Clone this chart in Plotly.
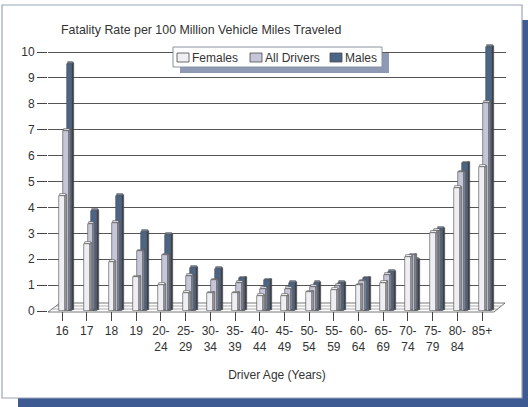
import plotly.graph_objects as go

categories = ["16", "17", "18", "19", "20-24", "25-29", "30-34", "35-39", "40-44",
              "45-49", "50-54", "55-59", "60-64", "65-69", "70-74", "75-79", "80-84", "85+"]
tick_labels = ["16", "17", "18", "19", "20-<br>24", "25-<br>29", "30-<br>34", "35-<br>39", "40-<br>44",
               "45-<br>49", "50-<br>54", "55-<br>59", "60-<br>64", "65-<br>69", "70-<br>74", "75-<br>79",
               "80-<br>84", "85+"]
females = [4.45, 2.6, 1.9, 1.3, 1.0, 0.7, 0.68, 0.68, 0.58, 0.58, 0.72, 0.8, 0.99, 1.1, 2.1, 3.0, 4.75, 5.55]
all_drivers = [6.95, 3.35, 3.4, 2.3, 2.15, 1.35, 1.18, 1.07, 0.86, 0.86, 0.92, 0.98, 1.14, 1.39, 2.15, 3.1, 5.35, 8.05]
males = [9.55, 3.85, 4.45, 3.05, 2.95, 1.65, 1.62, 1.26, 1.18, 1.07, 1.07, 1.08, 1.26, 1.52, 1.98, 3.18, 5.7, 10.2]
y_ticks = list(range(0, 11))
legend_names = ["Females", "All Drivers", "Males"]

W, H = 528, 407
L, R, T, B = 48, 22, 44, 96
PW, PH = W - L - R, H - T - B


def px(x):
    return (x - L) / PW


def py(y):
    return (H - B - y) / PH


FONT = "Liberation Sans, Arial, sans-serif"
TXT = "#333333"
series = [
    # name, values, offset, front, side, top
    ("Males", males, 0.18, "#4B6587", "#3B4048", "#7486A3"),
    ("All Drivers", all_drivers, 0.03, "#C5C7D9", "#8A8C9C", "#E2E3EC"),
    ("Females", females, -0.12, "#EFEFF3", "#A6A7AF", "#FFFFFF"),
]
FW, SW, TH = 0.24, 0.08, 0.07
line = dict(color="#4A4A4A", width=0.6)

fig = go.Figure()
for name, vals, off, cf, cs, ct in series:
    n = len(vals)
    fig.add_trace(go.Bar(x=categories, y=vals, base=[TH * 0.6] * n, offset=off + FW, width=SW,
                         marker=dict(color=cs, line=line), showlegend=False, hoverinfo="skip"))
    fig.add_trace(go.Bar(x=categories, y=[TH] * n, base=vals, offset=off + SW * 0.5,
                         width=FW, marker=dict(color=ct, line=line), showlegend=False, hoverinfo="skip"))
    fig.add_trace(go.Bar(x=categories, y=vals, offset=off, width=FW, name=name,
                         marker=dict(color=cf, line=line), showlegend=False))

front_colors = {s[0]: s[3] for s in series}

shapes = [
    dict(type="rect", xref="paper", yref="paper", x0=px(18), x1=px(530), y0=py(410), y1=py(20),
         fillcolor="#3D5A92", line=dict(width=0), layer="below"),
    dict(type="rect", xref="paper", yref="paper", x0=px(2), x1=px(522), y0=py(398), y1=py(5),
         fillcolor="#FFFFFF", line=dict(color="#9AA4B8", width=1.2), layer="below"),
    dict(type="path", xref="paper", yref="paper",
         path=f"M {px(48)} {py(312)} L {px(494)} {py(312)} L {px(505)} {py(303)} L {px(60)} {py(303)} Z",
         fillcolor="#FFFFFF", line=dict(color="#555555", width=0.8), layer="below"),
    dict(type="line", xref="paper", yref="paper", x0=px(52), x1=px(498), y0=py(309), y1=py(309),
         line=dict(color="#777777", width=0.6), layer="below"),
    dict(type="line", xref="paper", yref="paper", x0=px(56), x1=px(501), y0=py(306), y1=py(306),
         line=dict(color="#777777", width=0.6), layer="below"),
    dict(type="rect", xref="paper", yref="paper", x0=px(180), x1=px(389), y0=py(73), y1=py(53),
         fillcolor="#8E9AB3", line=dict(width=0), layer="above"),
    dict(type="rect", xref="paper", yref="paper", x0=px(173), x1=px(382), y0=py(67), y1=py(47),
         fillcolor="#FFFFFF", line=dict(color="#8890A0", width=1), layer="above"),
]

annotations = []
sym_x = [177, 250, 330]
for name, sx in zip(legend_names, sym_x):
    shapes.append(dict(type="rect", xref="paper", yref="paper", x0=px(sx), x1=px(sx + 12),
                       y0=py(62), y1=py(53), fillcolor=front_colors[name],
                       line=dict(color="#4A4A4A", width=0.8), layer="above"))
    annotations.append(dict(text=name, xref="paper", yref="paper", x=px(sx + 13), y=py(57.5),
                            xanchor="left", yanchor="middle", showarrow=False,
                            font=dict(family=FONT, size=12, color=TXT)))

fig.update_layout(
    width=W, height=H,
    margin=dict(l=L, r=R, t=T, b=B, autoexpand=False),
    paper_bgcolor="#FFFFFF", plot_bgcolor="rgba(0,0,0,0)",
    barmode="overlay", bargap=0,
    font=dict(family=FONT, size=12, color=TXT),
    title=dict(text="Fatality Rate per 100 Million Vehicle Miles Traveled", xref="container", yref="container",
               x=61 / W, xanchor="left", y=1 - 30 / H, yanchor="middle",
               font=dict(family=FONT, size=12.4, color=TXT)),
    showlegend=False,
    shapes=shapes,
    annotations=annotations,
    xaxis=dict(type="category", categoryorder="array", categoryarray=categories,
               tickmode="array", tickvals=categories, ticktext=tick_labels,
               range=[-0.57, 17.97], showgrid=False, zeroline=False, showline=False,
               ticks="outside", ticklen=9, tickcolor="#444444", tickwidth=1,
               tickfont=dict(family=FONT, size=12, color=TXT),
               title=dict(text="Driver Age (Years)", standoff=17,
                          font=dict(family=FONT, size=12, color=TXT))),
    yaxis=dict(range=[0, PH / 25.9], tickmode="array", tickvals=y_ticks,
               showgrid=True, gridcolor="#555555", gridwidth=1, zeroline=False, showline=False,
               ticks="outside", ticklen=10, tickcolor="#444444", tickwidth=1,
               tickfont=dict(family=FONT, size=12, color=TXT)),
)

fig.write_html("out.html", config={"displayModeBar": False},
               post_script="document.body.style.margin='0';document.body.style.overflow='hidden';")
